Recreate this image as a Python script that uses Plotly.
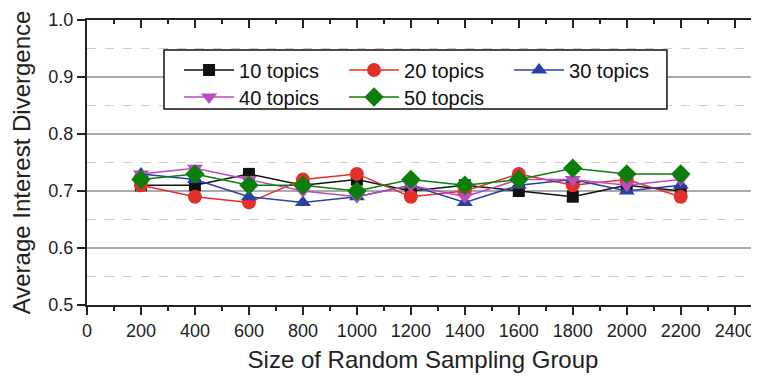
import plotly.graph_objects as go

sizes = [200, 400, 600, 800, 1000, 1200, 1400, 1600, 1800, 2000, 2200]
t10 = [0.71, 0.71, 0.73, 0.71, 0.72, 0.70, 0.71, 0.70, 0.69, 0.71, 0.70]
t20 = [0.71, 0.69, 0.68, 0.72, 0.73, 0.69, 0.70, 0.73, 0.71, 0.72, 0.69]
t30 = [0.73, 0.72, 0.69, 0.68, 0.69, 0.71, 0.68, 0.71, 0.72, 0.70, 0.71]
t40 = [0.73, 0.74, 0.72, 0.70, 0.69, 0.71, 0.69, 0.72, 0.72, 0.71, 0.72]
t50 = [0.72, 0.73, 0.71, 0.71, 0.70, 0.72, 0.71, 0.72, 0.74, 0.73, 0.73]
names = ["10 topics", "20 topics", "30 topics", "40 topics", "50 topcis"]
xticks = [0, 200, 400, 600, 800, 1000, 1200, 1400, 1600, 1800, 2000, 2200, 2400]
yticks = [0.5, 0.6, 0.7, 0.8, 0.9, 1.0]

series = [t10, t20, t30, t40, t50]
colors = ["#111111", "#e3302a", "#2e3fa3", "#bb4cbb", "#0b7f0b"]
symbols = ["square", "circle", "triangle-up", "triangle-down", "diamond"]
msizes = [12, 14, 14, 14, 15]
legend_ids = ["legend", "legend", "legend", "legend2", "legend2"]

FONT = "Liberation Sans, Arial, sans-serif"
fig = go.Figure()
for vals, name, c, s, ms, lg in zip(series, names, colors, symbols, msizes, legend_ids):
    fig.add_trace(go.Scatter(
        x=sizes, y=vals, name=name, mode="lines+markers", legend=lg,
        line=dict(color=c, width=1.5),
        marker=dict(symbol=s, size=ms, color=c, line=dict(width=0)),
    ))

leg_common = dict(
    orientation="h", xanchor="left", yanchor="middle",
    bgcolor="rgba(0,0,0,0)", borderwidth=0,
    font=dict(size=20, family=FONT, color="#111111"),
    entrywidth=100, entrywidthmode="pixels", itemwidth=50,
)

fig.update_layout(
    width=751, height=371,
    margin=dict(l=79, r=0, t=12, b=74, autoexpand=False),
    plot_bgcolor="white", paper_bgcolor="white",
    font=dict(family=FONT, color="#222222"),
    showlegend=True,
    legend=dict(x=0.137, y=0.8246, **leg_common),
    legend2=dict(x=0.137, y=0.7298, **leg_common),
    shapes=[dict(
        type="rect", xref="paper", yref="paper",
        x0=0.1146, x1=0.863, y0=0.688, y1=0.895,
        line=dict(color="#111111", width=1.5), fillcolor="white", layer="above",
    )],
    xaxis=dict(
        range=[0, 2490], tickvals=xticks, ticktext=[str(v) for v in xticks],
        showgrid=False, zeroline=False, automargin=False,
        showline=True, linecolor="#222222", linewidth=2,
        ticks="outside", ticklen=8, tickwidth=1.5, tickcolor="#222222",
        tickfont=dict(size=18, family=FONT, color="#222222"),
        minor=dict(dtick=100, tick0=0, ticks="outside", ticklen=4, tickwidth=1.5, tickcolor="#222222", showgrid=False),
        title=dict(text="Size of Random Sampling Group", font=dict(size=24, family=FONT, color="#222222"), standoff=12),
    ),
    xaxis2=dict(
        range=[0, 2490], overlaying="x", side="top", tickvals=xticks,
        showticklabels=False, showgrid=False, zeroline=False, automargin=False,
        showline=True, linecolor="#222222", linewidth=2,
        ticks="inside", ticklen=8, tickwidth=1.5, tickcolor="#222222",
        minor=dict(dtick=100, tick0=0, ticks="inside", ticklen=4, tickwidth=1.5, tickcolor="#222222", showgrid=False),
    ),
    yaxis=dict(
        range=[0.5, 1.0], tickvals=yticks, ticktext=[f"{v:.1f}" for v in yticks],
        showgrid=True, gridcolor="#aaaaaa", gridwidth=1.5, zeroline=False, automargin=False,
        showline=True, linecolor="#222222", linewidth=2,
        ticks="outside", ticklen=8, tickwidth=1.5, tickcolor="#222222",
        tickfont=dict(size=18, family=FONT, color="#222222"),
        minor=dict(dtick=0.05, tick0=0.5, showgrid=True, gridcolor="#cccccc", griddash="dash", gridwidth=1, ticks=""),
        title=dict(text="Average Interest Divergence", font=dict(size=24, family=FONT, color="#222222"), standoff=26),
    ),
    yaxis2=dict(
        range=[0.5, 1.0], overlaying="y", side="right", tickvals=yticks,
        showticklabels=False, showgrid=False, zeroline=False, automargin=False,
        showline=True, linecolor="#222222", linewidth=2,
        ticks="inside", ticklen=8, tickwidth=1.5, tickcolor="#222222",
        minor=dict(dtick=0.05, tick0=0.5, ticks="inside", ticklen=4, tickwidth=1.5, tickcolor="#222222", showgrid=False),
    ),
)
# invisible trace to activate the mirrored axes
fig.add_trace(go.Scatter(x=[None], y=[None], xaxis="x2", yaxis="y2", showlegend=False, hoverinfo="skip"))

fig.write_html("out.html")
